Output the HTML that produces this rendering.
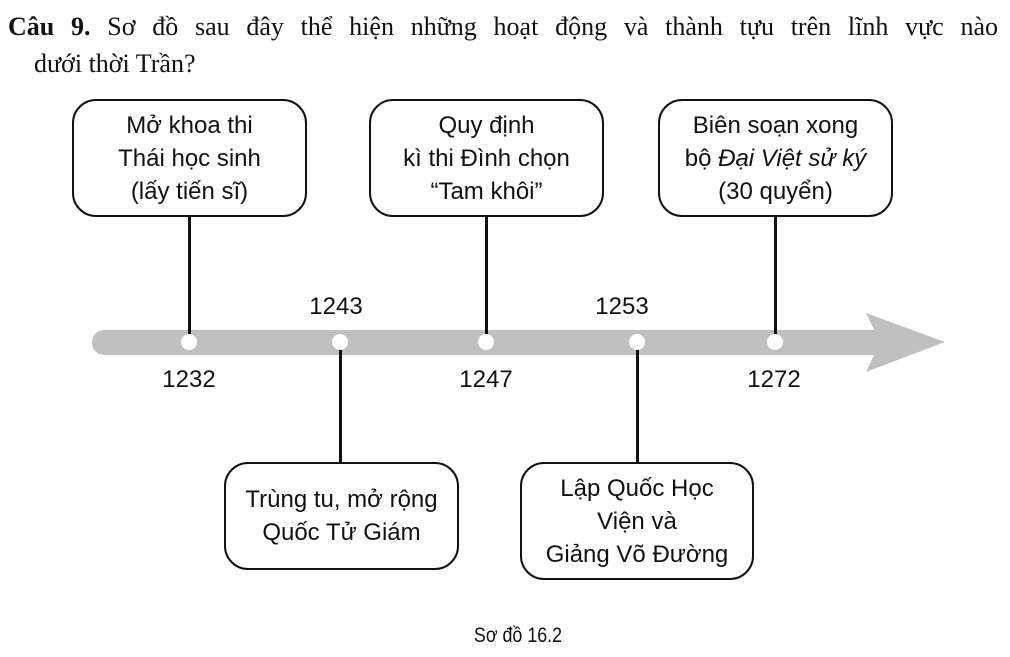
<!DOCTYPE html>
<html><head><meta charset="utf-8"><style>
body{margin:0;width:1010px;height:657px;background:#fff;position:relative;overflow:hidden;font-family:"Liberation Sans",sans-serif;color:#111}
.t1{position:absolute;font-family:"Liberation Serif",serif;font-size:26px;line-height:30px;left:8px;top:12px;width:990px;text-align:justify;text-align-last:justify;white-space:nowrap}
.t2{position:absolute;font-family:"Liberation Serif",serif;font-size:26px;line-height:30px;left:34px;top:49px}
.box{position:absolute;border:2.5px solid #111;border-radius:24px;box-sizing:border-box;display:flex;align-items:center;justify-content:center;text-align:center;font-size:24px;line-height:33px;background:#fff}
.ln{position:absolute;width:2.5px;background:#111}
.y{position:absolute;font-size:24px;width:90px;text-align:center}
</style></head><body>
<div class="t1"><b>Câu 9.</b> Sơ đồ sau đây thể hiện những hoạt động và thành tựu trên lĩnh vực nào</div>
<div class="t2">dưới thời Trần?</div>
<svg style="position:absolute;left:0;top:0" width="1010" height="657">
<rect x="92" y="330" width="790" height="25" rx="12" fill="#c0c0c0"/>
<polygon points="866,313 945,342 866,372 880,342" fill="#c0c0c0"/>
<polygon points="866,330 882,330 882,355 866,355" fill="#c0c0c0"/>
</svg>
<div class="ln" style="left:188px;top:214px;height:128px"></div>
<div class="ln" style="left:485px;top:214px;height:128px"></div>
<div class="ln" style="left:774px;top:214px;height:128px"></div>
<div class="ln" style="left:339px;top:342px;height:122px"></div>
<div class="ln" style="left:636px;top:342px;height:122px"></div>
<svg style="position:absolute;left:0;top:0" width="1010" height="657">
<g fill="#fff"><circle cx="189" cy="342" r="8"/><circle cx="340" cy="342" r="8"/><circle cx="486" cy="342" r="8"/><circle cx="637" cy="342" r="8"/><circle cx="775" cy="342" r="8"/></g>
</svg>
<div class="box" style="left:72px;top:99px;width:235px;height:118px"><span>Mở khoa thi<br>Thái học sinh<br>(lấy tiến sĩ)</span></div>
<div class="box" style="left:369px;top:99px;width:235px;height:118px"><span>Quy định<br>kì thi Đình chọn<br>“Tam khôi”</span></div>
<div class="box" style="left:658px;top:99px;width:235px;height:118px"><span>Biên soạn xong<br>bộ <i>Đại Việt sử ký</i><br>(30 quyển)</span></div>
<div class="box" style="left:224px;top:462px;width:235px;height:108px"><span>Trùng tu, mở rộng<br>Quốc Tử Giám</span></div>
<div class="box" style="left:520px;top:462px;width:234px;height:118px"><span>Lập Quốc Học<br>Viện và<br>Giảng Võ Đường</span></div>
<div class="y" style="left:144px;top:366px">1232</div>
<div class="y" style="left:291px;top:293px">1243</div>
<div class="y" style="left:441px;top:366px">1247</div>
<div class="y" style="left:577px;top:293px">1253</div>
<div class="y" style="left:729px;top:366px">1272</div>
<div style="position:absolute;left:438px;top:624px;width:160px;text-align:center;font-size:21px;transform:scaleX(0.85)">Sơ đồ 16.2</div>
</body></html>
